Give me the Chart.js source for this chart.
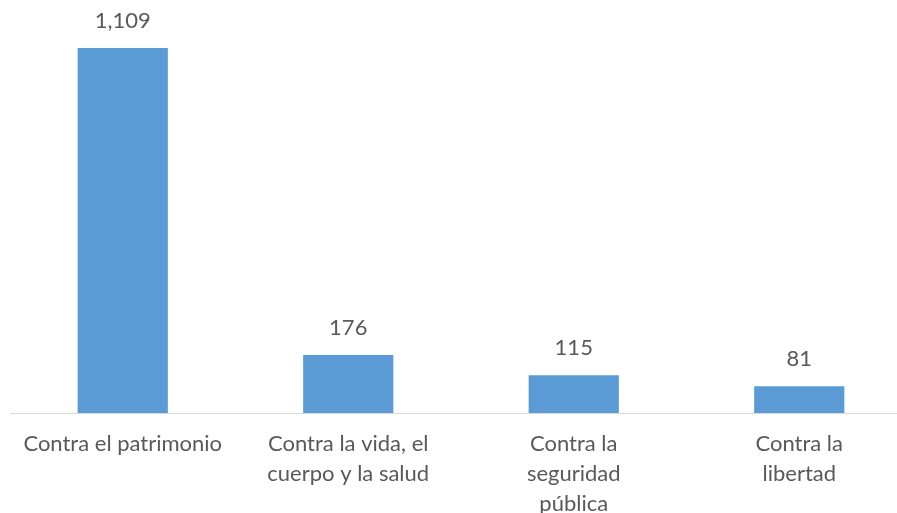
<!DOCTYPE html>
<html>
<head>
<meta charset="utf-8">
<script src="https://cdn.jsdelivr.net/npm/chart.js@4.4.0/dist/chart.umd.min.js"></script>
<style>
  html, body { margin: 0; padding: 0; background: #fff; overflow: hidden; }
  #wrap { width: 912px; height: 513px; }
</style>
</head>
<body>
<div id="wrap"><canvas id="barChart"></canvas></div>
<script>
const categories = [
  ['Contra el patrimonio'],
  ['Contra la vida, el', 'cuerpo y la salud'],
  ['Contra la', 'seguridad', 'pública'],
  ['Contra la', 'libertad']
];
const delitos = [1109, 176, 115, 81];
const barColor = '#5B9BD5';
const textColor = '#595959';
const fontFamily = 'Lato, "Open Sans", sans-serif';

// labels above the bars
const valueLabels = {
  id: 'valueLabels',
  afterDatasetsDraw(chart) {
    const ctx = chart.ctx;
    const meta = chart.getDatasetMeta(0);
    ctx.save();
    ctx.fillStyle = textColor;
    ctx.font = '22px ' + fontFamily;
    ctx.textAlign = 'center';
    ctx.textBaseline = 'middle';
    meta.data.forEach((bar, i) => {
      ctx.fillText(delitos[i].toLocaleString('en-US'), bar.x, bar.y - 27);
    });
    ctx.restore();
  }
};

function createBarChart() {
  const ctx = document.getElementById('barChart').getContext('2d');
  new Chart(ctx, {
    type: 'bar',
    data: {
      labels: categories,
      datasets: [{
        data: delitos,
        backgroundColor: barColor,
        barPercentage: 0.4,
        categoryPercentage: 1
      }]
    },
    options: {
      responsive: true,
      maintainAspectRatio: false,
      animation: false,
      layout: { padding: { left: 10, top: 18, right: 0, bottom: 0 } },
      plugins: { legend: { display: false }, tooltip: { enabled: false } },
      scales: {
        x: {
          grid: { display: false },
          border: { color: '#D9D9D9', width: 1 },
          ticks: {
            color: textColor,
            font: { family: fontFamily, size: 22, lineHeight: 1.36 },
            padding: 8,
            maxRotation: 0
          },
          afterFit(scale) { scale.height = 100; }
        },
        y: {
          display: false,
          min: 0,
          max: 1200
        }
      }
    },
    plugins: [valueLabels]
  });
}

createBarChart();
</script>
</body>
</html>
